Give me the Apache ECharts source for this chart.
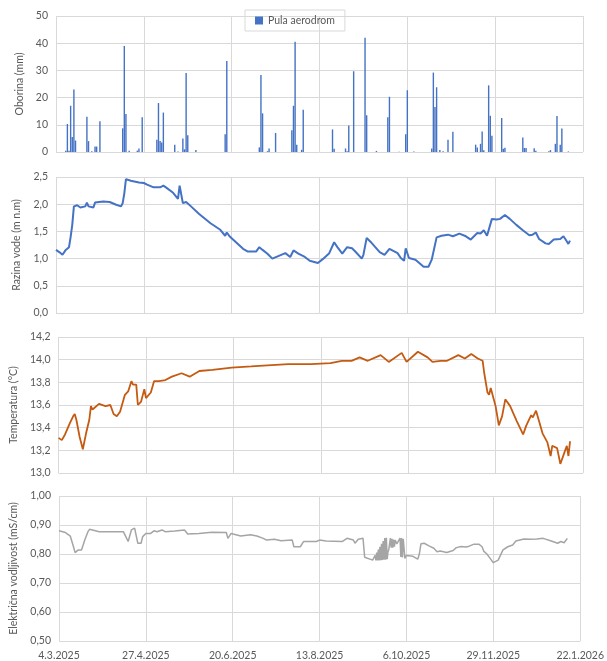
<!DOCTYPE html>
<html>
<head>
<meta charset="utf-8">
<script src="https://cdn.jsdelivr.net/npm/echarts@6/dist/echarts.min.js"></script>
<style>
html,body{margin:0;padding:0;background:#fff;}
#c{width:607px;height:661px;}
</style>
</head>
<body>
<div id="c"></div>
<script>
// ---------- DATA ----------
const xTickLabels = ['4.3.2025','27.4.2025','20.6.2025','13.8.2025','6.10.2025','29.11.2025','22.1.2026'];

const rainDates = ['2025-03-10','2025-03-11','2025-03-12','2025-03-13','2025-03-14','2025-03-15','2025-03-16','2025-03-23','2025-03-24','2025-03-26','2025-03-28','2025-03-29','2025-03-31','2025-04-14','2025-04-15','2025-04-16','2025-04-18','2025-04-23','2025-04-24','2025-04-26','2025-05-05','2025-05-06','2025-05-07','2025-05-08','2025-05-09','2025-05-16','2025-05-18','2025-05-21','2025-05-22','2025-05-23','2025-05-24','2025-05-29','2025-06-16','2025-06-17','2025-07-07','2025-07-08','2025-07-09','2025-07-12','2025-07-13','2025-07-17','2025-07-27','2025-07-28','2025-07-29','2025-07-30','2025-08-02','2025-08-03','2025-08-21','2025-08-22','2025-08-29','2025-08-30','2025-08-31','2025-09-03','2025-09-10','2025-09-11','2025-09-17','2025-09-24','2025-09-25','2025-10-01','2025-10-05','2025-10-06','2025-10-10','2025-10-21','2025-10-22','2025-10-23','2025-10-24','2025-10-26','2025-10-28','2025-10-31','2025-11-03','2025-11-17','2025-11-18','2025-11-20','2025-11-21','2025-11-22','2025-11-25','2025-11-26','2025-11-27','2025-12-03','2025-12-04','2025-12-05','2025-12-16','2025-12-17','2025-12-18','2025-12-23','2025-12-24','2026-01-01','2026-01-02','2026-01-05','2026-01-06','2026-01-08','2026-01-09','2026-01-13'];
const rainValues = [0.5,10.3,0.5,17,5.5,23,4.2,13,4,0.3,2,2,11.3,8.7,39,14,0.5,0.5,1.3,12.8,4.5,18,4,3.5,14.5,2.7,0.2,5,1,29,6.2,0.7,6.5,33.5,1.7,28.3,14.2,0.3,1.3,7,8,17,40.5,2.7,0.8,15.5,8.3,1.2,1.3,0.3,9.7,29.7,42,13.5,0.4,12.8,20.3,0.1,6.5,22.7,0.2,1.3,29.2,16.5,23.8,0.7,0.3,4.5,7.4,2.7,1.7,3,7.5,0.6,24.5,13.3,6,12.5,1.2,1.6,5.3,1.5,1.5,1.4,0.5,0.3,0.7,3,13.2,2.7,8.6,0.2];

const levelDates = ['2025-03-04','2025-03-06','2025-03-08','2025-03-10','2025-03-12','2025-03-13','2025-03-14','2025-03-15','2025-03-17','2025-03-19','2025-03-22','2025-03-23','2025-03-24','2025-03-27','2025-03-28','2025-04-02','2025-04-06','2025-04-10','2025-04-13','2025-04-14','2025-04-15','2025-04-16','2025-04-19','2025-04-24','2025-04-27','2025-04-29','2025-05-03','2025-05-07','2025-05-09','2025-05-11','2025-05-15','2025-05-18','2025-05-19','2025-05-20','2025-05-21','2025-05-23','2025-05-26','2025-05-31','2025-06-07','2025-06-13','2025-06-16','2025-06-17','2025-06-19','2025-06-23','2025-06-27','2025-06-30','2025-07-05','2025-07-07','2025-07-09','2025-07-12','2025-07-15','2025-07-19','2025-07-23','2025-07-26','2025-07-28','2025-07-31','2025-08-04','2025-08-07','2025-08-12','2025-08-15','2025-08-19','2025-08-22','2025-08-24','2025-08-27','2025-08-30','2025-09-02','2025-09-04','2025-09-08','2025-09-09','2025-09-11','2025-09-14','2025-09-19','2025-09-22','2025-09-25','2025-09-30','2025-10-02','2025-10-04','2025-10-05','2025-10-07','2025-10-11','2025-10-16','2025-10-19','2025-10-21','2025-10-24','2025-10-27','2025-10-31','2025-11-03','2025-11-07','2025-11-11','2025-11-14','2025-11-18','2025-11-20','2025-11-22','2025-11-24','2025-11-27','2025-11-30','2025-12-02','2025-12-05','2025-12-08','2025-12-12','2025-12-16','2025-12-20','2025-12-22','2025-12-24','2025-12-26','2025-12-30','2026-01-01','2026-01-04','2026-01-08','2026-01-10','2026-01-12','2026-01-13','2026-01-14'];
const levelValues = [1.16,1.12,1.07,1.16,1.21,1.40,1.62,1.96,1.98,1.94,1.96,2.03,1.96,1.94,2.03,2.05,2.04,1.99,1.96,2.02,2.20,2.46,2.43,2.40,2.39,2.36,2.31,2.31,2.34,2.30,2.21,2.10,2.34,2.33,2.02,2.04,1.96,1.82,1.65,1.53,1.42,1.48,1.40,1.29,1.18,1.13,1.13,1.21,1.16,1.09,1.00,1.05,1.10,1.03,1.15,1.09,1.03,0.96,0.92,0.99,1.10,1.30,1.21,1.09,1.21,1.19,1.13,1.00,1.07,1.38,1.29,1.12,1.07,1.18,1.10,1.01,0.96,1.19,1.01,0.98,0.85,0.85,0.98,1.39,1.42,1.44,1.41,1.46,1.41,1.35,1.47,1.46,1.52,1.42,1.73,1.72,1.73,1.80,1.73,1.62,1.52,1.43,1.44,1.48,1.36,1.28,1.27,1.35,1.36,1.41,1.32,1.27,1.33];

const tempDates = ['2025-03-04','2025-03-06','2025-03-08','2025-03-11','2025-03-13','2025-03-14','2025-03-15','2025-03-17','2025-03-19','2025-03-21','2025-03-23','2025-03-24','2025-03-25','2025-03-29','2025-04-02','2025-04-05','2025-04-07','2025-04-09','2025-04-11','2025-04-14','2025-04-16','2025-04-18','2025-04-19','2025-04-21','2025-04-22','2025-04-24','2025-04-26','2025-04-27','2025-04-30','2025-05-02','2025-05-05','2025-05-09','2025-05-13','2025-05-19','2025-05-24','2025-05-30','2025-06-07','2025-06-19','2025-07-01','2025-07-11','2025-07-24','2025-08-07','2025-08-19','2025-08-26','2025-09-01','2025-09-06','2025-09-11','2025-09-19','2025-09-24','2025-10-02','2025-10-05','2025-10-12','2025-10-18','2025-10-21','2025-10-26','2025-10-30','2025-11-06','2025-11-10','2025-11-14','2025-11-18','2025-11-21','2025-11-22','2025-11-24','2025-11-25','2025-11-26','2025-11-27','2025-11-29','2025-12-01','2025-12-03','2025-12-05','2025-12-08','2025-12-12','2025-12-16','2025-12-18','2025-12-21','2025-12-22','2025-12-24','2025-12-28','2025-12-31','2026-01-02','2026-01-03','2026-01-06','2026-01-08','2026-01-10','2026-01-12','2026-01-13','2026-01-14'];
const tempValues = [13.31,13.29,13.34,13.44,13.50,13.52,13.47,13.32,13.21,13.35,13.47,13.59,13.56,13.61,13.59,13.60,13.52,13.50,13.54,13.69,13.72,13.81,13.78,13.78,13.60,13.63,13.74,13.66,13.71,13.81,13.81,13.82,13.85,13.88,13.85,13.90,13.91,13.93,13.94,13.95,13.96,13.96,13.97,13.99,13.99,14.02,13.99,14.04,13.98,14.06,13.98,14.07,14.02,13.98,13.99,13.99,14.04,14.01,14.05,14.01,13.99,13.88,13.71,13.69,13.75,13.74,13.59,13.42,13.50,13.65,13.59,13.46,13.34,13.42,13.51,13.49,13.55,13.35,13.27,13.15,13.24,13.22,13.08,13.16,13.24,13.15,13.28];

const condDates = ['2025-03-04','2025-03-08','2025-03-11','2025-03-13','2025-03-14','2025-03-16','2025-03-18','2025-03-20','2025-03-22','2025-03-23','2025-03-29','2025-04-06','2025-04-13','2025-04-14','2025-04-16','2025-04-17','2025-04-18','2025-04-20','2025-04-21','2025-04-22','2025-04-24','2025-04-25','2025-04-27','2025-04-30','2025-05-02','2025-05-04','2025-05-07','2025-05-09','2025-05-15','2025-05-21','2025-05-23','2025-05-30','2025-06-07','2025-06-16','2025-06-17','2025-06-19','2025-06-25','2025-07-01','2025-07-05','2025-07-09','2025-07-11','2025-07-16','2025-07-20','2025-07-27','2025-07-28','2025-08-01','2025-08-03','2025-08-05','2025-08-11','2025-08-13','2025-08-17','2025-08-27','2025-08-28','2025-08-30','2025-09-03','2025-09-04','2025-09-06','2025-09-09','2025-09-10','2025-09-15','2025-09-15 12','2025-09-16','2025-09-16 12','2025-09-17','2025-09-17 12','2025-09-18','2025-09-18 12','2025-09-19','2025-09-19 12','2025-09-20','2025-09-20 12','2025-09-21','2025-09-21 12','2025-09-22','2025-09-22 12','2025-09-23','2025-09-23 12','2025-09-24','2025-09-24 12','2025-09-25','2025-09-26','2025-09-26 12','2025-09-27','2025-09-27 12','2025-09-28','2025-09-28 12','2025-09-29','2025-09-30','2025-10-01','2025-10-02','2025-10-02 12','2025-10-03','2025-10-03 12','2025-10-04','2025-10-04 12','2025-10-05','2025-10-06','2025-10-10','2025-10-13','2025-10-14','2025-10-15','2025-10-17','2025-10-20','2025-10-23','2025-10-25','2025-10-27','2025-10-31','2025-11-04','2025-11-06','2025-11-09','2025-11-12','2025-11-14','2025-11-17','2025-11-20','2025-11-22','2025-11-23','2025-11-25','2025-11-27','2025-11-29','2025-11-30','2025-12-02','2025-12-05','2025-12-08','2025-12-11','2025-12-13','2025-12-18','2025-12-22','2025-12-23','2025-12-26','2025-12-30','2026-01-04','2026-01-08','2026-01-10','2026-01-12','2026-01-14'];
const condValues = [0.880,0.874,0.862,0.825,0.805,0.814,0.814,0.848,0.877,0.885,0.877,0.877,0.877,0.866,0.843,0.848,0.883,0.889,0.885,0.837,0.837,0.860,0.871,0.871,0.880,0.877,0.883,0.877,0.879,0.883,0.869,0.871,0.875,0.874,0.854,0.871,0.862,0.866,0.862,0.854,0.848,0.851,0.846,0.848,0.825,0.825,0.843,0.843,0.843,0.848,0.845,0.843,0.837,0.854,0.848,0.837,0.851,0.854,0.789,0.779,0.785,0.778,0.795,0.778,0.805,0.778,0.815,0.778,0.825,0.779,0.835,0.779,0.845,0.780,0.855,0.780,0.856,0.782,0.808,0.815,0.855,0.822,0.852,0.822,0.850,0.825,0.848,0.835,0.835,0.855,0.790,0.855,0.788,0.852,0.853,0.785,0.795,0.792,0.782,0.800,0.835,0.837,0.828,0.820,0.808,0.810,0.805,0.812,0.822,0.826,0.824,0.827,0.834,0.834,0.825,0.810,0.800,0.785,0.770,0.768,0.779,0.814,0.825,0.831,0.845,0.852,0.851,0.846,0.852,0.854,0.845,0.837,0.843,0.839,0.854];

// ---------- helpers ----------
const START = Date.UTC(2025, 2, 4);
const DAY = 86400000;
function dayOf(s) {
  const p = s.split(/[- ]/).map(Number);
  return (Date.UTC(p[0], p[1] - 1, p[2], p[3] || 0) - START) / DAY;
}
function pairs(dates, vals) { return dates.map((d, i) => [dayOf(d), vals[i]]); }
function fmtDay(v) {
  const dt = new Date(START + v * DAY);
  return dt.getUTCDate() + '.' + (dt.getUTCMonth() + 1) + '.' + dt.getUTCFullYear();
}
const comma = n => v => v.toFixed(n).replace('.', ',');

const FONT = 'Lato';
const TXT = '#595959';
const GRIDC = '#d9d9d9';
const X_MIN = dayOf('2025-03-04'), X_MAX = dayOf('2026-01-22'), X_INT = 54;

const grids = [
  {left: 56, right: 24, top: 16, height: 136},
  {left: 56, right: 24, top: 177, height: 136},
  {left: 56, right: 24, top: 337, height: 136},
  {left: 56, right: 24, top: 496, height: 145}
];

function xAxis(i, showLabel) {
  return {
    type: 'value', gridIndex: i, min: X_MIN, max: X_MAX, interval: X_INT,
    axisLine: {show: false}, axisTick: {show: false},
    splitLine: {show: true, lineStyle: {color: GRIDC, width: 1}},
    axisLabel: {show: showLabel, color: TXT, fontFamily: FONT, fontSize: 10.5, margin: 9,
      formatter: v => fmtDay(v), showMinLabel: true, showMaxLabel: true}
  };
}
function yAxis(i, min, max, interval, fmt, name, gap) {
  return {
    type: 'value', gridIndex: i, min: min, max: max, interval: interval,
    axisLine: {show: false}, axisTick: {show: false},
    splitLine: {show: true, lineStyle: {color: GRIDC, width: 1}},
    axisLabel: {color: TXT, fontFamily: FONT, fontSize: 10.5, margin: 8, formatter: fmt},
    name: name, nameLocation: 'middle', nameRotate: 90, nameGap: gap,
    nameTextStyle: {color: TXT, fontFamily: FONT, fontSize: 10.5}
  };
}

const chart = echarts.init(document.getElementById('c'), null, {renderer: 'canvas'});
chart.setOption({
  animation: false,
  backgroundColor: '#fff',
  grid: grids,
  legend: {
    data: ['Pula aerodrom'], left: 245, top: 10,
    padding: [5, 10], borderColor: '#d9d9d9', borderWidth: 1,
    itemWidth: 8, itemHeight: 8, icon: 'rect',
    textStyle: {color: TXT, fontFamily: FONT, fontSize: 10.5}
  },
  xAxis: [xAxis(0, false), xAxis(1, false), xAxis(2, false), xAxis(3, true)],
  yAxis: [
    yAxis(0, 0, 50, 10, v => String(v), 'Oborina (mm)', 24),
    yAxis(1, 0, 2.5, 0.5, comma(1), 'Razina vode (m n.m)', 28),
    yAxis(2, 13.0, 14.2, 0.2, comma(1), 'Temperatura (°C)', 36),
    yAxis(3, 0.5, 1.0, 0.1, comma(2), 'Električna vodljivost (mS/cm)', 40)
  ],
  series: [
    {name: 'Pula aerodrom', type: 'bar', xAxisIndex: 0, yAxisIndex: 0,
     data: pairs(rainDates, rainValues), barWidth: 1.4,
     itemStyle: {color: '#4472C4'}},
    {name: 'Razina', type: 'line', xAxisIndex: 1, yAxisIndex: 1,
     data: pairs(levelDates, levelValues), showSymbol: false,
     lineStyle: {color: '#4472C4', width: 2}},
    {name: 'Temperatura', type: 'line', xAxisIndex: 2, yAxisIndex: 2,
     data: pairs(tempDates, tempValues), showSymbol: false,
     lineStyle: {color: '#C55A11', width: 1.8}},
    {name: 'Vodljivost', type: 'line', xAxisIndex: 3, yAxisIndex: 3,
     data: pairs(condDates, condValues), showSymbol: false,
     lineStyle: {color: '#A5A5A5', width: 1.5}}
  ]
});
</script>
</body>
</html>
